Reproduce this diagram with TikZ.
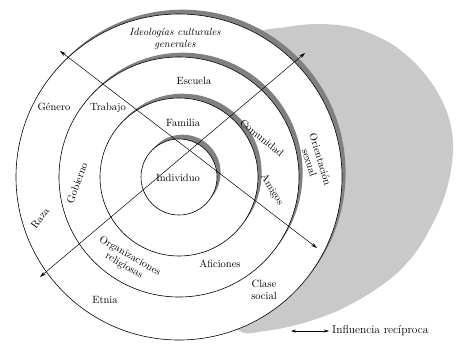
\documentclass[tikz,border=0pt]{standalone}
\usetikzlibrary{arrows.meta,calc}
\definecolor{blobgray}{gray}{0.79}
\definecolor{bandgray}{gray}{0.5}
\begin{document}
\begin{tikzpicture}[x=1pt,y=-1pt,
  ring/.style={draw=black, line width=0.6pt, fill=white},
  band/.style={fill=bandgray},
  axis/.style={line width=0.5pt, {Stealth[length=6pt,width=3.5pt]}-{Stealth[length=6pt,width=3.5pt]}},
  lbl/.style={font=\fontsize{10.5}{11.5}\selectfont, inner sep=0pt, align=center}]
\useasboundingbox (0,0) rectangle (462,351);
\fill[white] (0,0) rectangle (462,351);

% shaded field of influence behind the rings
\fill[blobgray] plot[smooth cycle, tension=0.55] coordinates {
  (250,36) (287,27) (320,24) (355,28) (390,43) (415,63) (435,88)
  (448,115) (453,142) (451,170) (444,198) (432,225) (416,252)
  (395,275) (367,295) (335,312) (300,324) (265,331) (238,330)
  (215,290) (210,200) (215,80)};

% concentric rings, each with a shaded crescent on its upper right
\coordinate (c) at (179,177);
\coordinate (cs) at ($(c)+(3.6,-4.3)$);
\foreach \r in {163,120,79,38} {
  \fill[band] (cs) circle[radius=\r pt];
  \draw[ring] (c) circle[radius=\r pt];
}

% crossing double-headed axes
\coordinate (a1) at (60,51);
\coordinate (a2) at (317,248);
\coordinate (b1) at (40,277);
\coordinate (b2) at (305,53);
\draw[axis] (a1) -- (a2);
\draw[axis] (b1) -- (b2);

% ring labels
\node[lbl, font=\fontsize{10.5}{12}\selectfont\itshape] (ideo) at (175,39) {Ideologías culturales\\generales};
\node[lbl] (escuela) at (194,81) {Escuela};
\node[lbl] (genero) at (54,107) {Género};
\node[lbl] (trabajo) at (108,108) {Trabajo};
\node[lbl] (familia) at (183,123) {Familia};
\node[lbl] (indiv) at (178,178) {Individuo};
\node[lbl, rotate=-39] (comunidad) at (262,138) {Comunidad};
\node[lbl, rotate=-73] (orient) at (315,161) {Orientación\\sexual};
\node[lbl, rotate=-58] (amigos) at (272,190) {Amigos};
\node[lbl, rotate=70] (gobierno) at (77,183) {Gobierno};
\node[lbl, rotate=53] (raza) at (40,218) {Raza};
\node[lbl, rotate=-30] (organiz) at (127,261) {Organizaciones\\religiosas};
\node[lbl] (aficiones) at (220,264) {Aficiones};
\node[lbl] (clase) at (264,290) {Clase\\social};
\node[lbl] (etnia) at (105,300) {Etnia};

% legend
\coordinate (l1) at (291,331);
\coordinate (l2) at (329,331);
\draw[line width=0.5pt, {Stealth[length=5pt,width=3pt]}-{Stealth[length=5pt,width=3pt]}] (l1) -- (l2);
\node[lbl, anchor=west, font=\fontsize{11.5}{12}\selectfont] (legend) at (332,331) {Influencia recíproca};
\end{tikzpicture}
\end{document}
